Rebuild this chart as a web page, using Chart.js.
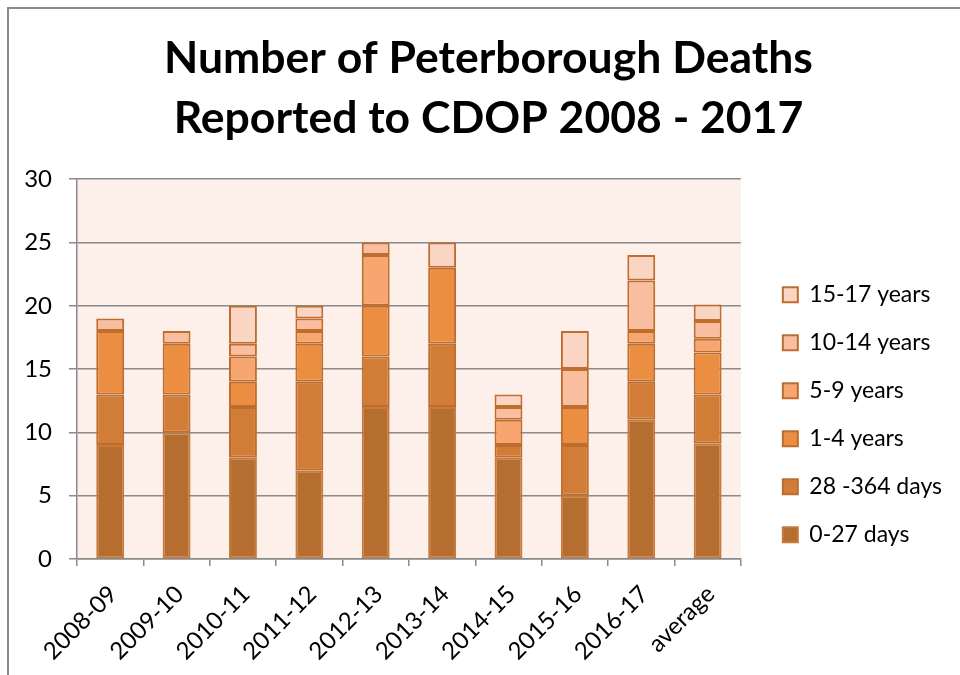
<!DOCTYPE html>
<html>
<head>
<meta charset="utf-8">
<script src="https://cdn.jsdelivr.net/npm/chart.js@4.4.0/dist/chart.umd.min.js"></script>
<style>
  html, body { margin: 0; padding: 0; background: #fff; overflow: hidden; }
  #frame {
    position: absolute; left: 7px; top: 7px;
    border-left: 2px solid #8a8a8a; border-top: 2px solid #8a8a8a;
  }
  #box { position: relative; width: 959px; height: 666px; }
</style>
</head>
<body>
<div id="frame"><div id="box"><canvas id="deaths"></canvas></div></div>
<script>
// categories and series (counts per year, stacked by age group)
const years = ['2008-09', '2009-10', '2010-11', '2011-12', '2012-13', '2013-14', '2014-15', '2015-16', '2016-17', 'average'];
const days0to27   = [9, 10, 8, 7, 12, 12, 8, 5, 11, 9.1];
const days28to364 = [4, 3, 4, 7, 4, 5, 1, 4, 3, 3.9];
const years1to4   = [5, 4, 2, 3, 4, 6, 0, 3, 3, 3.3];
const years5to9   = [0, 0, 2, 1, 4, 0, 2, 0, 1, 1.1];
const years10to14 = [1, 1, 1, 1, 1, 0, 1, 3, 4, 1.4];
const years15to17 = [0, 0, 3, 1, 0, 2, 1, 3, 2, 1.3];
const yTicks = [0, 5, 10, 15, 20, 25, 30];

const gridGrey = '#8a8a8a';
const font = 'Lato';

// fill the plot area with the pale peach background
const plotBackground = {
    id: 'plotBackground',
    beforeDraw(chart) {
        const a = chart.chartArea;
        const ctx = chart.ctx;
        ctx.save();
        ctx.fillStyle = '#fdefea';
        ctx.fillRect(a.left, a.top, a.right - a.left, a.bottom - a.top);
        ctx.restore();
    }
};

// centre the title on the whole canvas, ignoring the right padding
const titleCentre = {
    id: 'titleCentre',
    afterLayout(chart) {
        chart.titleBlock.left = 0;
        chart.titleBlock.right = chart.width;
    }
};

function series(label, data, fill, edge) {
    return {
        label: label,
        data: data,
        backgroundColor: fill,
        borderColor: edge,
        borderWidth: 2,
        borderSkipped: false,
        categoryPercentage: 1,
        barPercentage: 0.42
    };
}

function drawChart() {
    new Chart(document.getElementById('deaths'), {
        type: 'bar',
        data: {
            labels: years,
            datasets: [
                series('0-27 days', days0to27, '#b56d30', '#c77a3c'),
                series('28 -364 days', days28to364, '#d27d37', '#bf6d2c'),
                series('1-4 years', years1to4, '#eb8e42', '#bf6d2c'),
                series('5-9 years', years5to9, '#f8a66f', '#bf6d2c'),
                series('10-14 years', years10to14, '#f9bd9f', '#bf6d2c'),
                series('15-17 years', years15to17, '#fbd5c3', '#bf6d2c')
            ]
        },
        options: {
            responsive: true,
            maintainAspectRatio: false,
            animation: false,
            layout: { padding: { left: 0, right: 16, top: 0, bottom: 0 } },
            plugins: {
                title: {
                    display: true,
                    text: ['Number of Peterborough Deaths', 'Reported to CDOP 2008 - 2017'],
                    color: '#000',
                    font: { family: font, size: 44.5, weight: 'bold', lineHeight: 1.35 },
                    padding: { top: 20, bottom: 30 }
                },
                legend: {
                    position: 'right',
                    reverse: true,
                    maxWidth: 220,
                    // empty title only pushes the legend items down
                    title: { display: true, text: '', font: { size: 12, lineHeight: 1.2 }, padding: { top: 131, bottom: 0 } },
                    labels: {
                        color: '#000',
                        font: { family: font, size: 23 },
                        boxWidth: 15,
                        boxHeight: 15,
                        padding: 25
                    }
                },
                tooltip: { enabled: false }
            },
            scales: {
                x: {
                    stacked: true,
                    grid: { offset: true, drawOnChartArea: false, drawTicks: true, tickLength: 7, color: gridGrey, lineWidth: 1.5 },
                    border: { display: true, color: gridGrey, width: 1.5 },
                    ticks: { color: '#000', font: { family: font, size: 24 }, minRotation: 45, maxRotation: 45, padding: 14, labelOffset: 3 },
                    afterFit: s => { s.height = 116; }
                },
                y: {
                    stacked: true,
                    min: 0,
                    max: 30,
                    afterBuildTicks: s => { s.ticks = yTicks.map(v => ({ value: v })); },
                    grid: { color: gridGrey, lineWidth: 1.5, tickLength: 8 },
                    border: { display: true, color: gridGrey, width: 1.5 },
                    ticks: { color: '#000', font: { family: font, size: 24 }, padding: 17 },
                    afterFit: s => { s.width = 68; }
                },
                pad: {
                    position: 'right',
                    display: true,
                    grid: { display: false },
                    border: { display: false },
                    ticks: { display: false },
                    afterFit: s => { s.width = 17; }
                }
            }
        },
        plugins: [plotBackground, titleCentre]
    });
}

// make sure Lato is ready before Chart.js measures the legend text
Promise.all([
    document.fonts.load('23px Lato'),
    document.fonts.load('24px Lato'),
    document.fonts.load('bold 44.5px Lato')
]).then(drawChart, drawChart);
</script>
</body>
</html>
